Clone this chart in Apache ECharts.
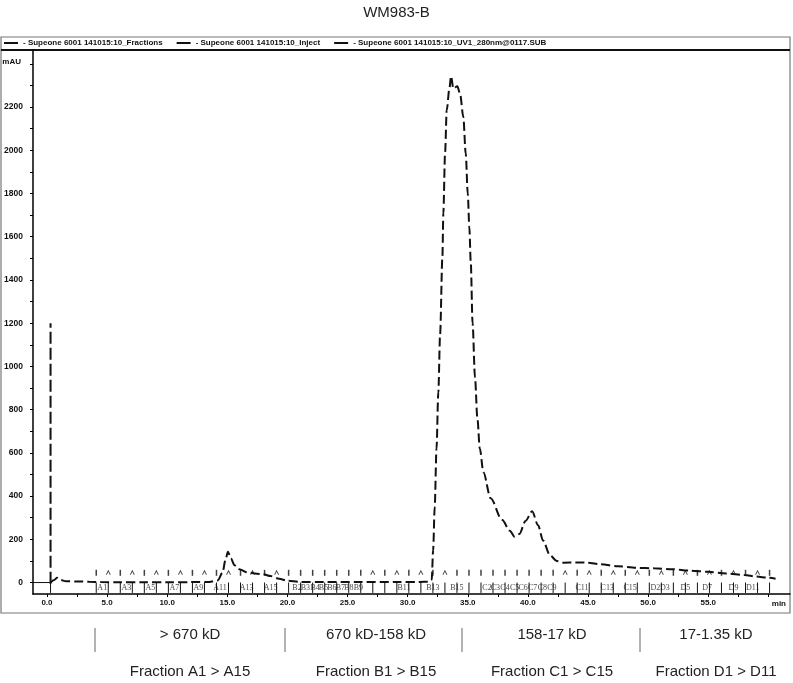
<!DOCTYPE html>
<html>
<head>
<meta charset="utf-8">
<title>WM983-B</title>
<script src="https://cdn.jsdelivr.net/npm/echarts@6/dist/echarts.min.js"></script>
<style>
html, body { margin: 0; padding: 0; background: #fff; }
#main { width: 793px; height: 683px; }
</style>
</head>
<body>
<div id="main"></div>
<script>
// UV trace (min, mAU)
var uvTimes = [0.3, 0.6, 0.85, 1.1, 1.6, 2.5, 3.5, 4.5, 6, 8, 10, 12, 13.5, 14.2, 14.6, 14.85, 15.05, 15.3, 15.6, 16.0, 16.6, 17.3, 18.0, 18.6, 19.3, 20.0, 21.0, 23, 26, 29, 31, 31.8,
    32.0, 32.12, 32.25, 32.4, 32.55, 32.7, 32.89, 32.97, 33.11, 33.25, 33.47, 33.61, 33.8, 34.13, 34.36, 34.63, 34.83, 35.0, 35.13, 35.25, 35.4, 35.6, 35.8, 36.0, 36.3, 36.9,
    37.85, 38.5, 38.9, 39.3, 39.8, 40.35, 40.85, 41.26, 41.85, 42.4, 43.0, 44.0, 45.0, 46.0, 47.5, 49.0, 50.5, 52.0, 53.5, 55.0, 56.5, 58.0, 59.0, 60.0, 60.6];
var uvValues = [0, 12, 22, 12, 6, 5, 4, 2, 1, 1, 1, 2, 3, 10, 45, 105, 142, 112, 80, 62, 48, 42, 38, 30, 18, 8, 3, 2, 2, 2, 3, 4,
    12, 150, 350, 620, 880, 1150, 1506, 1710, 1985, 2185, 2285, 2343, 2285, 2296, 2262, 2154, 1985, 1800, 1645, 1480, 1200, 950, 760, 620, 510, 390,
    290, 240, 212, 225, 285, 330, 265, 194, 125, 100, 92, 93, 92, 85, 75, 68, 66, 62, 55, 50, 42, 35, 28, 22, 18];

// injection mark
var injectTimes = [0.3, 0.3];
var injectValues = [-5, 1200];

// fraction boundaries (min)
var wasteStart = -1.16;
var fractionBounds = [0.3, 4.1, 5.1, 6.1, 7.1, 8.1, 9.1, 10.1, 11.1, 12.1, 13.1, 14.1, 15.1, 16.1, 17.1, 18.1, 19.1, 20.1, 21.1, 22.1, 23.1, 24.1, 25.1, 26.1, 27.1, 28.1,
    29.1, 30.1, 31.1, 32.1, 33.1, 34.1, 35.1, 36.1, 37.1, 38.1, 39.1, 40.1, 41.1, 42.1, 43.1, 44.1, 45.1, 46.1, 47.1, 48.1, 49.1, 50.1, 51.1, 52.1, 53.1,
    54.1, 55.1, 56.1, 57.1, 58.1, 59.1, 60.1];
var fractionNames = ['A1', 'A3', 'A5', 'A7', 'A9', 'A11', 'A13', 'A15', 'B2', 'B3', 'B4', 'B5', 'B6', 'B7', 'B8', 'B9', 'B11', 'B13', 'B15',
    'C2', 'C3', 'C4', 'C5', 'C6', 'C7', 'C8', 'C9', 'C11', 'C13', 'C15', 'D2', 'D3', 'D5', 'D7', 'D9', 'D11'];
var fractionLabelTimes = [4.6, 6.6, 8.6, 10.6, 12.6, 14.4, 16.6, 18.6, 20.8, 21.5, 22.3, 23.0, 23.7, 24.4, 25.1, 25.9, 29.7, 32.1, 34.1,
    36.6, 37.3, 38.1, 38.9, 39.6, 40.4, 41.2, 42.0, 44.5, 46.6, 48.5, 50.6, 51.4, 53.1, 54.9, 57.1, 58.7];
var tickMarks = [4.1, 6.1, 8.1, 10.1, 12.1, 14.1, 16.1, 18.1, 20.1, 21.1, 22.1, 23.1, 24.1, 25.1, 26.1, 28.1, 30.1, 32.1, 34.1, 35.1, 36.1, 37.1,
    38.1, 39.1, 40.1, 41.1, 42.1, 44.1, 46.1, 48.1, 50.1, 52.1, 54.1, 56.1, 58.1, 60.1];
var caretMarks = [5.1, 7.1, 9.1, 11.1, 13.1, 15.1, 17.1, 19.1, 27.1, 29.1, 31.1, 33.1, 43.1, 45.1, 47.1, 49.1, 51.1, 53.1, 55.1, 57.1, 59.1];

// axes
var yLabelValues = [0, 200, 400, 600, 800, 1000, 1200, 1400, 1600, 1800, 2000, 2200];
var yTickValues = [0, 100, 200, 300, 400, 500, 600, 700, 800, 900, 1000, 1100, 1200, 1300, 1400, 1500, 1600, 1700, 1800, 1900, 2000, 2100, 2200, 2300, 2400];
var xLabelValues = [0, 5, 10, 15, 20, 25, 30, 35, 40, 45, 50, 55];
var xTickValues = [0, 2.5, 5, 7.5, 10, 12.5, 15, 17.5, 20, 22.5, 25, 27.5, 30, 32.5, 35, 37.5, 40, 42.5, 45, 47.5, 50, 52.5, 55, 57.5, 60];

var seriesNames = ['Supeone 6001 141015:10_Fractions', 'Supeone 6001 141015:10_Inject', 'Supeone 6001 141015:10_UV1_280nm@0117.SUB'];
var sizeRanges = ['> 670 kD', '670 kD-158 kD', '158-17 kD', '17-1.35 kD'];
var fractionGroups = ['Fraction A1 > A15', 'Fraction B1 > B15', 'Fraction C1 > C15', 'Fraction D1 > D11'];

(function () {
    var myChart = echarts.init(document.getElementById('main'));

    var uvData = uvTimes.map(function (t, i) { return [t, uvValues[i]]; });
    var injectData = injectTimes.map(function (t, i) { return [t, injectValues[i]]; });

    // fraction boxes: short drops from baseline at each boundary
    var fracData = [[wasteStart, 0]];
    fractionBounds.forEach(function (b) {
        fracData.push([b, 0], [b, -48], [b, '-']);
    });

    var labelData = fractionNames.map(function (n, i) {
        return { name: n, value: [fractionLabelTimes[i], -24] };
    });

    // bottom annotations (layout only)
    var sepX = [95, 285, 462, 640];
    var textX = [190, 376, 552, 716];
    var graphics = [
        { type: 'rect', shape: { x: 1, y: 37, width: 789, height: 576 }, style: { fill: null, stroke: '#777', lineWidth: 1.2 }, silent: true },
        { type: 'line', shape: { x1: 1, y1: 50, x2: 790, y2: 50 }, style: { stroke: '#111', lineWidth: 2 }, silent: true }
    ];
    sepX.forEach(function (x) {
        graphics.push({ type: 'line', shape: { x1: x, y1: 628, x2: x, y2: 652 }, style: { stroke: '#666', lineWidth: 1 } });
    });
    sizeRanges.forEach(function (s, i) {
        graphics.push({ type: 'text', x: textX[i], y: 635, style: { text: s, fill: '#222', font: '15px "Liberation Sans", Arial', align: 'center', verticalAlign: 'middle' } });
        graphics.push({ type: 'text', x: textX[i], y: 672, style: { text: fractionGroups[i], fill: '#222', font: '15px "Liberation Sans", Arial', align: 'center', verticalAlign: 'middle' } });
    });

    var option = {
        animation: false,
        backgroundColor: '#fff',
        title: {
            text: 'WM983-B',
            left: 'center',
            top: 0,
            textStyle: { fontSize: 15, fontWeight: 'normal', color: '#222', fontFamily: 'Liberation Sans' }
        },
        legend: {
            data: seriesNames,
            left: 4,
            top: 39,
            icon: 'rect',
            itemWidth: 14,
            itemHeight: 2,
            itemGap: 14,
            padding: 0,
            formatter: function (n) { return '- ' + n; },
            textStyle: { fontSize: 8, fontWeight: 'bold', color: '#111', fontFamily: 'Liberation Sans' }
        },
        grid: { left: 33, right: 3, top: 50, bottom: 89, containLabel: false, outerBoundsMode: 'none' },
        xAxis: {
            type: 'value',
            min: -1.16,
            max: 61.8,
            name: 'min',
            nameLocation: 'end',
            nameGap: 0,
            nameTextStyle: { fontSize: 8, fontWeight: 'bold', color: '#111', align: 'right', verticalAlign: 'top', padding: [6, 4, 0, 0] },
            axisLine: { onZero: false, lineStyle: { color: '#000', width: 1.5 } },
            axisTick: { customValues: xTickValues, length: 3, lineStyle: { color: '#000' } },
            axisLabel: {
                customValues: xLabelValues,
                margin: 5,
                fontSize: 8,
                fontWeight: 'bold',
                color: '#111',
                formatter: function (v) { return v.toFixed(1); }
            },
            splitLine: { show: false }
        },
        yAxis: {
            type: 'value',
            min: -53,
            max: 2464,
            name: 'mAU',
            nameLocation: 'end',
            nameGap: -12,
            nameTextStyle: { fontSize: 8, fontWeight: 'bold', color: '#111', align: 'right', verticalAlign: 'middle', padding: [0, 12, 0, 0] },
            axisLine: { show: true, onZero: false, lineStyle: { color: '#000', width: 1.5 } },
            axisTick: { show: true, customValues: yTickValues, length: 3, lineStyle: { color: '#000' } },
            axisLabel: {
                customValues: yLabelValues,
                margin: 10,
                fontSize: 8.5,
                fontWeight: 'bold',
                color: '#111',
                formatter: function (v) { return String(v); }
            },
            splitLine: { show: false }
        },
        graphic: graphics,
        series: [
            {
                name: seriesNames[0],
                type: 'line',
                data: fracData,
                showSymbol: false,
                color: '#111',
                lineStyle: { color: '#111', width: 1 },
                z: 3
            },
            {
                name: seriesNames[1],
                type: 'line',
                data: injectData,
                showSymbol: false,
                color: '#111',
                lineStyle: { color: '#111', width: 2, type: [12, 4] },
                z: 4
            },
            {
                name: seriesNames[2],
                type: 'line',
                data: uvData,
                showSymbol: false,
                smooth: 0.3,
                smoothMonotone: 'x',
                color: '#111',
                lineStyle: { color: '#111', width: 2, type: [9, 4] },
                z: 5
            },
            {
                name: 'fracLabels',
                type: 'scatter',
                data: labelData,
                symbolSize: 0,
                label: {
                    show: true,
                    position: 'inside',
                    formatter: '{b}',
                    fontSize: 8,
                    fontFamily: 'Liberation Serif',
                    color: '#111'
                },
                z: 6
            },
            {
                name: 'fracTicks',
                type: 'scatter',
                data: tickMarks.map(function (t) { return [t, 45]; }),
                symbol: 'rect',
                symbolSize: [1.5, 6],
                itemStyle: { color: '#111' }
            },
            {
                name: 'fracCarets',
                type: 'scatter',
                data: caretMarks.map(function (t) { return [t, 48]; }),
                symbol: 'path://M0,10 L5,0 L10,10 L8,10 L5,4 L2,10 Z',
                symbolSize: [5, 5],
                itemStyle: { color: '#111' }
            }
        ]
    };
    myChart.setOption(option);
})();
</script>
</body>
</html>
